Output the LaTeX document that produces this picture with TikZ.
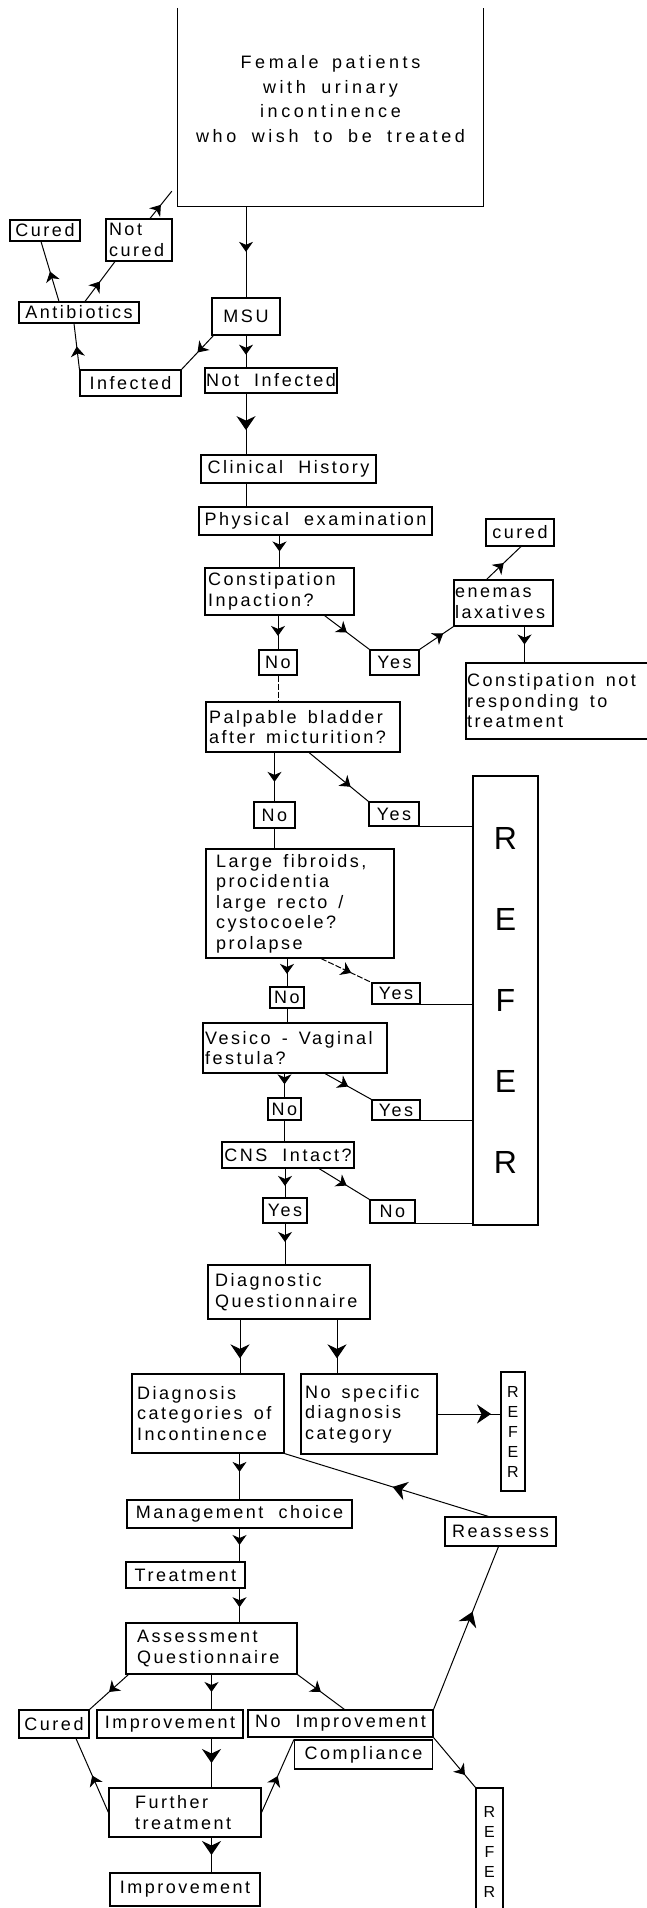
\documentclass[tikz,border=0pt]{standalone}
\usepackage{fontspec}
\setmainfont{Liberation Sans}
\newfontfamily\rf[LetterSpace=14,WordSpace=2]{Liberation Sans}
\newfontfamily\tf[LetterSpace=20,WordSpace=1.8]{Liberation Sans}
\newcommand\ws{\spaceskip=.62em plus .1em\relax}
\usetikzlibrary{arrows.meta,decorations.markings,calc}
\tikzset{
  ah/.tip={Stealth[length=10pt,width=14pt,inset=3pt]},
  bh/.tip={Stealth[length=14pt,width=19pt,inset=4.5pt]},
  marr/.style={postaction={decorate},decoration={markings,mark=at position #1 with {\arrow{ah}}}},
  marr/.default=0.5,
  barr/.style={postaction={decorate},decoration={markings,mark=at position #1 with {\arrow{bh}}}},
  barr/.default=0.6,
  ln/.style={line width=1pt},
  brk/.style={dash pattern=on 6pt off 2pt},
  bx/.style={draw, line width=1.1pt, inner sep=0pt, font=\rf\fontsize{18}{20.5}\selectfont},
  tbox/.style={inner sep=0pt, align=center, font=\tf\fontsize{18}{24.5}\selectfont},
}
\begin{document}
\begin{tikzpicture}[x=1pt,y=-1pt]
\useasboundingbox (0,0) rectangle (646,1908);
% nodes
\node[tbox, minimum width=305pt, minimum height=214pt] (top) at (330.5,99) {\spaceskip=.75em\relax Female patients\\with urinary\\incontinence\\who wish to be treated};
\draw[line width=1.1pt] ([yshift=-16pt]top.north west) -- (top.south west) -- (top.south east) -- ([yshift=-16pt]top.north east);
\node[bx, minimum width=70pt, minimum height=21pt] (cured1) at (45,230.5) {Cured};
\node[bx, minimum width=66pt, minimum height=42pt, text width=60pt, align=left] (notcured) at (139,240) {Not\\cured};
\node[bx, minimum width=120pt, minimum height=21pt] (anti) at (79,312.5) {Antibiotics};
\node[bx, minimum width=68pt, minimum height=37pt] (msu) at (246,316.5) {MSU};
\node[bx, minimum width=101pt, minimum height=26pt] (inf) at (130.5,383) {Infected};
\node[bx, minimum width=132pt, minimum height=25pt] (notinf) at (271,380.5) {Not Infected};
\node[bx, minimum width=175pt, minimum height=28pt] (clin) at (288.5,469) {Clinical History};
\node[bx, minimum width=233pt, minimum height=28pt] (phys) at (315.5,521) {Physical examination};
\node[bx, minimum width=149pt, minimum height=47pt, text width=143pt, align=left] (cons) at (279.5,591.5) {Constipation\\Inpaction?};
\node[bx, minimum width=68pt, minimum height=27pt] (curedR) at (520,532.5) {cured};
\node[bx, minimum width=99pt, minimum height=46pt, text width=97pt, align=left] (enem) at (503.5,603) {enemas\\laxatives};
\node[bx, minimum width=38pt, minimum height=25pt] (no1) at (278,662.5) {No};
\node[bx, minimum width=49pt, minimum height=25pt] (yes1) at (394.5,662.5) {Yes};
\node[bx, minimum width=184pt, minimum height=76pt, text width=182pt, align=left] (cnr) at (558,701) {\ws Constipation not\\responding to\\treatment};
\node[bx, minimum width=194pt, minimum height=50pt, text width=188pt, align=left] (palp) at (303,727) {\ws Palpable bladder\\after micturition?};
\node[bx, minimum width=41pt, minimum height=26pt] (no2) at (274.5,815) {No};
\node[bx, minimum width=50pt, minimum height=24pt] (yes2) at (394,814) {Yes};
\node[bx, minimum width=65pt, minimum height=449pt, align=center, font=\fontsize{32}{81}\selectfont] (refer) at (505.5,1000.5) {R\\E\\F\\E\\R};
\node[bx, minimum width=188pt, minimum height=109pt, text width=168pt, align=left] (large) at (300,903.5) {\ws Large fibroids,\\procidentia\\large recto /\\cystocoele?\\prolapse};
\node[bx, minimum width=34pt, minimum height=21pt] (no3) at (287,997.5) {No};
\node[bx, minimum width=48pt, minimum height=21pt] (yes3) at (396,993.5) {Yes};
\node[bx, minimum width=184pt, minimum height=50pt, text width=180pt, align=left] (ves) at (295,1048) {\ws Vesico - Vaginal\\festula?};
\node[bx, minimum width=33pt, minimum height=22pt] (no4) at (284.5,1109) {No};
\node[bx, minimum width=48pt, minimum height=20pt] (yes4) at (396,1110) {Yes};
\node[bx, minimum width=132pt, minimum height=26pt] (cns) at (288,1155) {CNS Intact?};
\node[bx, minimum width=44pt, minimum height=25pt] (yes5) at (285,1210.5) {Yes};
\node[bx, minimum width=45pt, minimum height=23pt] (no5) at (392.5,1211.5) {No};
\node[bx, minimum width=162pt, minimum height=54pt, text width=148pt, align=left] (dq) at (289,1292) {Diagnostic\\Questionnaire};
\node[bx, minimum width=152pt, minimum height=79pt, text width=142pt, align=left] (diag) at (208,1413.5) {\ws Diagnosis\\categories of\\Incontinence};
\node[bx, minimum width=136pt, minimum height=80pt, text width=128pt, align=left] (nosp) at (369,1414) {\ws No specific\\diagnosis\\category};
\node[bx, minimum width=24pt, minimum height=119pt, align=center, font=\fontsize{16}{20}\selectfont] (refer2) at (513,1431.5) {R\\E\\F\\E\\R};
\node[bx, minimum width=225pt, minimum height=28pt] (mgmt) at (239.5,1514) {Management choice};
\node[bx, minimum width=111pt, minimum height=29pt] (reas) at (500.5,1531.5) {Reassess};
\node[bx, minimum width=119pt, minimum height=26pt] (treat) at (185.5,1575) {Treatment};
\node[bx, minimum width=171pt, minimum height=51pt, text width=149pt, align=left] (assess) at (211.5,1648.5) {Assessment\\Questionnaire};
\node[bx, minimum width=70pt, minimum height=28pt] (cured2) at (54,1724) {Cured};
\node[bx, minimum width=146pt, minimum height=28pt] (impr) at (170,1724) {Improvement};
\node[bx, minimum width=185pt, minimum height=27pt] (noimpr) at (340.5,1723.5) {No Improvement};
\node[bx, minimum width=138pt, minimum height=29pt] (compl) at (363.5,1754.5) {Compliance};
\node[bx, minimum width=152pt, minimum height=49pt, text width=100pt, align=left] (further) at (185,1812.5) {Further\\treatment};
\node[bx, minimum width=150pt, minimum height=33pt] (impr2) at (185,1889.5) {Improvement};
\node[bx, minimum width=27pt, minimum height=127pt, align=center, font=\fontsize{16}{20}\selectfont] (refer3) at (489.5,1851.5) {R\\E\\F\\E\\R};
% connectors
\draw[ln,marr] ([xshift=11pt]notcured.north) -- ([shift={(-6,-15)}]top.south west);
\draw[ln,marr] ([xshift=-20pt]anti.north) -- ([xshift=-4pt]cured1.south);
\draw[ln,marr] ([xshift=6pt]anti.north) -- ([xshift=-24pt]notcured.south);
\draw[ln,marr] (top.south -| msu.north) -- (msu.north);
\draw[ln,marr] (inf.north west) -- ([xshift=-5pt]anti.south);
\draw[ln,marr] ([xshift=2pt]msu.south west) -- (inf.north east);
\draw[ln,marr=0.6] (msu.south) -- (msu.south |- notinf.north);
\draw[ln,barr=0.6] (msu.south |- notinf.south) -- (msu.south |- clin.north);
\draw[ln] (msu.south |- clin.south) -- (msu.south |- phys.north);
\draw[ln,marr] (cons.north |- phys.south) -- (cons.north);
\draw[ln,marr=0.6] (no1.north |- cons.south) -- (no1.north);
\draw[ln,marr] ([xshift=45pt]cons.south) -- (yes1.north west);
\draw[ln,marr=0.7] (yes1.north east) -- (enem.south west);
\draw[ln,marr] ([xshift=-17pt]enem.north) -- ([xshift=1pt]curedR.south);
\coordinate (e1) at ($(enem.south)+(21,0)$);
\draw[ln,marr] (e1) -- (e1 |- cnr.north);
\draw[ln,brk] (no1.south) -- (no1.south |- palp.north);
\draw[ln,marr=0.6] (no2.north |- palp.south) -- (no2.north);
\draw[ln,marr=0.7] ([xshift=6pt]palp.south) -- (yes2.north west);
\draw[ln] (yes2.south east) -- (yes2.south east -| refer.west);
\draw[ln] (no2.south) -- (no2.south |- large.north);
\draw[ln,marr=0.55] (no3.north |- large.south) -- (no3.north);
\draw[ln,brk,marr=0.6] ([xshift=21pt]large.south) -- (yes3.north west);
\draw[ln] (yes3.south east) -- (yes3.south east -| refer.west);
\draw[ln] (no3.south) -- (no3.south |- ves.north);
\draw[ln,marr=0.45] (no4.north |- ves.south) -- (no4.north);
\draw[ln,marr] ([xshift=30pt]ves.south) -- (yes4.north west);
\draw[ln] (yes4.south east) -- (yes4.south east -| refer.west);
\draw[ln] (no4.south) -- (no4.south |- cns.north);
\draw[ln,marr=0.6] (yes5.north |- cns.south) -- (yes5.north);
\draw[ln,marr=0.55] ([xshift=31pt]cns.south) -- (no5.north west);
\draw[ln] (no5.south east) -- (no5.south east -| refer.west);
\draw[ln,marr=0.45] (yes5.south) -- (yes5.south |- dq.north);
\coordinate (d1) at ($(diag.north)+(32,0)$);
\coordinate (d2) at ($(nosp.north)+(-32,0)$);
\draw[ln,barr=0.72] (d1 |- dq.south) -- (d1);
\draw[ln,barr=0.72] (d2 |- dq.south) -- (d2);
\draw[ln,barr=0.85] (nosp.east) -- (refer2.west |- nosp.east);
\draw[ln,marr=0.4] (mgmt.north |- diag.south) -- (mgmt.north);
\draw[ln,barr=0.47] ([xshift=-12pt]reas.north) -- (diag.south east);
\draw[ln,marr] (mgmt.south) -- (mgmt.south |- treat.north);
\draw[ln,marr=0.55] (mgmt.south |- treat.south) -- (mgmt.south |- assess.north);
\draw[ln,marr] ([xshift=3pt]assess.south west) -- (cured2.north east);
\draw[ln,marr] (assess.south) -- (assess.south |- impr.north);
\draw[ln,marr] (assess.south east) -- ([xshift=4pt]noimpr.north);
\draw[ln,barr=0.5] (assess.south |- impr.south) -- (assess.south |- further.north);
\draw[ln,marr] (further.west) -- ([xshift=22pt]cured2.south);
\draw[ln,marr] (further.east) -- (compl.north west);
\draw[ln,barr=0.5] (assess.south |- further.south) -- (assess.south |- impr2.north);
\draw[ln,barr=0.6] (noimpr.north east) -- ([xshift=-2pt]reas.south);
\draw[ln,marr=0.75] (noimpr.south east) -- (refer3.north west);
\end{tikzpicture}
\end{document}
